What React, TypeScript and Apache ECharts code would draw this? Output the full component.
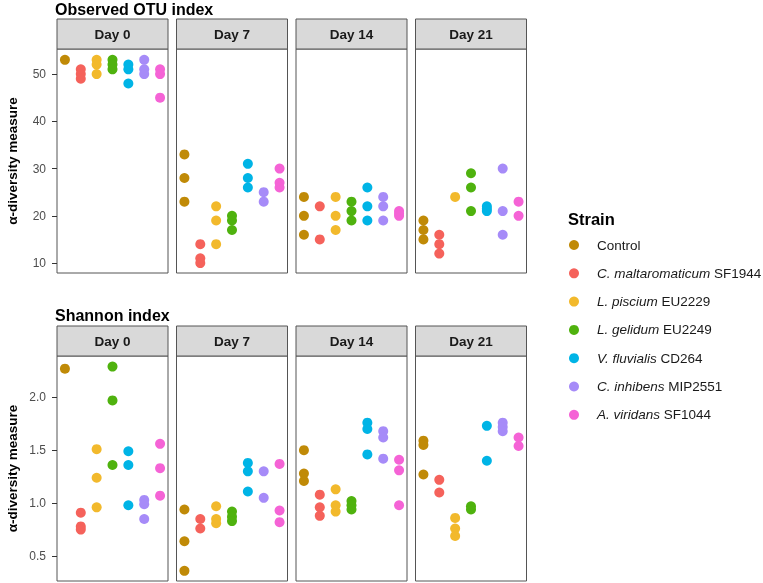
import React, { useEffect, useRef } from "react";
import * as echarts from "echarts";

const strains = [
  "Control",
  "C. maltaromaticum SF1944",
  "L. piscium EU2229",
  "L. gelidum EU2249",
  "V. fluvialis CD264",
  "C. inhibens MIP2551",
  "A. viridans SF1044",
];
const strainItalic = ["", "C. maltaromaticum", "L. piscium", "L. gelidum", "V. fluvialis", "C. inhibens", "A. viridans"];
const strainColors = ["#C08A07", "#F5625B", "#F2B92C", "#4FB20E", "#00B4E6", "#A68BF8", "#F563D6"];

const days = ["Day 0", "Day 7", "Day 14", "Day 21"];

// Observed OTU index, per strain replicates
const otuDay0 = [[53], [51, 50, 49], [53, 52, 50], [53, 52, 51], [52, 51, 48], [53, 51, 50], [51, 50, 45]];
const otuDay7 = [[33, 28, 23], [14, 11, 10], [22, 19, 14], [20, 19, 17], [31, 28, 26], [25, 23], [30, 27, 26]];
const otuDay14 = [[24, 20, 16], [22, 15], [24, 20, 17], [23, 21, 19], [26, 22, 19], [24, 22, 19], [21, 20.5, 20]];
const otuDay21 = [[19, 17, 15], [16, 14, 12], [24], [29, 26, 21], [22, 21.5, 21], [30, 21, 16], [23, 20]];

// Shannon index
const shDay0 = [[2.27], [0.91, 0.78, 0.75], [1.51, 1.24, 0.96], [2.29, 1.97, 1.36], [1.49, 1.36, 0.98], [1.03, 0.99, 0.85], [1.56, 1.33, 1.07]];
const shDay7 = [[0.94, 0.64, 0.36], [0.85, 0.76], [0.97, 0.85, 0.81], [0.92, 0.87, 0.83], [1.38, 1.3, 1.11], [1.3, 1.05], [1.37, 0.93, 0.82]];
const shDay14 = [[1.5, 1.28, 1.21], [1.08, 0.96, 0.88], [1.13, 0.98, 0.92], [1.02, 0.98, 0.94], [1.76, 1.7, 1.46], [1.68, 1.62, 1.42], [1.41, 1.31, 0.98]];
const shDay21 = [[1.59, 1.55, 1.27], [1.22, 1.1], [0.86, 0.76, 0.69], [0.97, 0.94], [1.73, 1.4], [1.76, 1.72, 1.68], [1.62, 1.54]];

const otuTicks = [10, 20, 30, 40, 50];
const shTicks = [0.5, 1.0, 1.5, 2.0];

const FONT = "Liberation Sans, Arial, Helvetica, sans-serif";

export default function App() {
  const ref = useRef<HTMLDivElement>(null);
  useEffect(() => {
    if (!ref.current) return;
    const chart = echarts.init(ref.current, null, { renderer: "svg" });

    const panelLefts = [57, 176.5, 296, 415.5];
    const panelW = 111;
    const rows = [
      { title: "Observed OTU index", titleTop: 1, stripTop: 19, top: 49, height: 224, min: 7.9, max: 55.3, ticks: otuTicks, data: [otuDay0, otuDay7, otuDay14, otuDay21], fmt: (v: number) => String(v) },
      { title: "Shannon index", titleTop: 307, stripTop: 326, top: 356, height: 225, min: 0.264, max: 2.39, ticks: shTicks, data: [shDay0, shDay7, shDay14, shDay21], fmt: (v: number) => v.toFixed(1) },
    ];

    const grids: any[] = [];
    const xAxes: any[] = [];
    const yAxes: any[] = [];
    const series: any[] = [];
    const graphics: any[] = [];

    rows.forEach((row) => {
      graphics.push({
        type: "text",
        left: 55,
        top: row.titleTop,
        style: { text: row.title, font: `bold 16px ${FONT}`, fill: "#000" },
      });
      days.forEach((day, d) => {
        const gi = grids.length;
        grids.push({
          left: panelLefts[d],
          top: row.top,
          width: panelW,
          height: row.height,
          show: true,
          borderColor: "#555",
          borderWidth: 1,
          backgroundColor: "#fff",
        });
        xAxes.push({
          type: "category",
          gridIndex: gi,
          data: strains,
          boundaryGap: true,
          axisLine: { show: false },
          axisTick: { show: false },
          axisLabel: { show: false },
          splitLine: { show: false },
        });
        yAxes.push({
          type: "value",
          gridIndex: gi,
          min: row.min,
          max: row.max,
          axisLine: { show: false },
          splitLine: { show: false },
          axisTick: d === 0 ? { show: true, length: 5, lineStyle: { color: "#333" }, customValues: row.ticks } : { show: false },
          axisLabel: d === 0
            ? { show: true, customValues: row.ticks, formatter: (v: number) => row.fmt(v), color: "#4D4D4D", fontSize: 12, fontFamily: FONT, margin: 11 }
            : { show: false },
          name: d === 0 ? "α-diversity measure" : "",
          nameLocation: "middle",
          nameRotate: 90,
          nameGap: 38,
          nameTextStyle: { fontSize: 13.5, fontWeight: "bold", fontFamily: FONT, color: "#000" },
        });
        graphics.push({
          type: "rect",
          shape: { x: panelLefts[d], y: row.stripTop, width: panelW, height: row.top - row.stripTop },
          style: { fill: "#D9D9D9", stroke: "#555", lineWidth: 1 },
        });
        graphics.push({
          type: "text",
          x: panelLefts[d] + panelW / 2,
          y: (row.stripTop + row.top) / 2,
          style: { text: day, font: `bold 13.5px ${FONT}`, fill: "#1A1A1A", align: "center", verticalAlign: "middle" },
        });
        strains.forEach((s, si) => {
          series.push({
            type: "scatter",
            name: s,
            xAxisIndex: gi,
            yAxisIndex: gi,
            symbol: "circle",
            symbolSize: 10,
            itemStyle: { color: strainColors[si], opacity: 1 },
            data: row.data[d][si].map((v) => [s, v]),
          });
        });
      });
    });

    graphics.push({
      type: "text",
      left: 568,
      top: 210,
      style: { text: "Strain", font: `bold 16.5px ${FONT}`, fill: "#000" },
    });

    chart.setOption({
      animation: false,
      color: strainColors,
      grid: grids,
      xAxis: xAxes,
      yAxis: yAxes,
      series,
      graphic: graphics,
      legend: {
        data: strains.map((s) => ({ name: s, icon: "circle" })),
        orient: "vertical",
        left: 564,
        top: 233,
        itemWidth: 10,
        itemHeight: 10,
        itemGap: 14.3,
        selectedMode: false,
        formatter: (name: string) => {
          const i = strains.indexOf(name);
          const it = strainItalic[i];
          if (!it) return name;
          return `{i|${it}}${name.slice(it.length)}`;
        },
        textStyle: {
          fontSize: 13.5,
          fontFamily: FONT,
          color: "#1A1A1A",
          padding: [0, 0, 0, 13],
          rich: { i: { fontStyle: "italic", fontSize: 13.5, fontFamily: FONT, color: "#1A1A1A" } },
        },
      },
    });
    return () => chart.dispose();
  }, []);
  return <div ref={ref} style={{ position: "fixed", left: 0, top: 0, width: 763, height: 583 }} />;
}
